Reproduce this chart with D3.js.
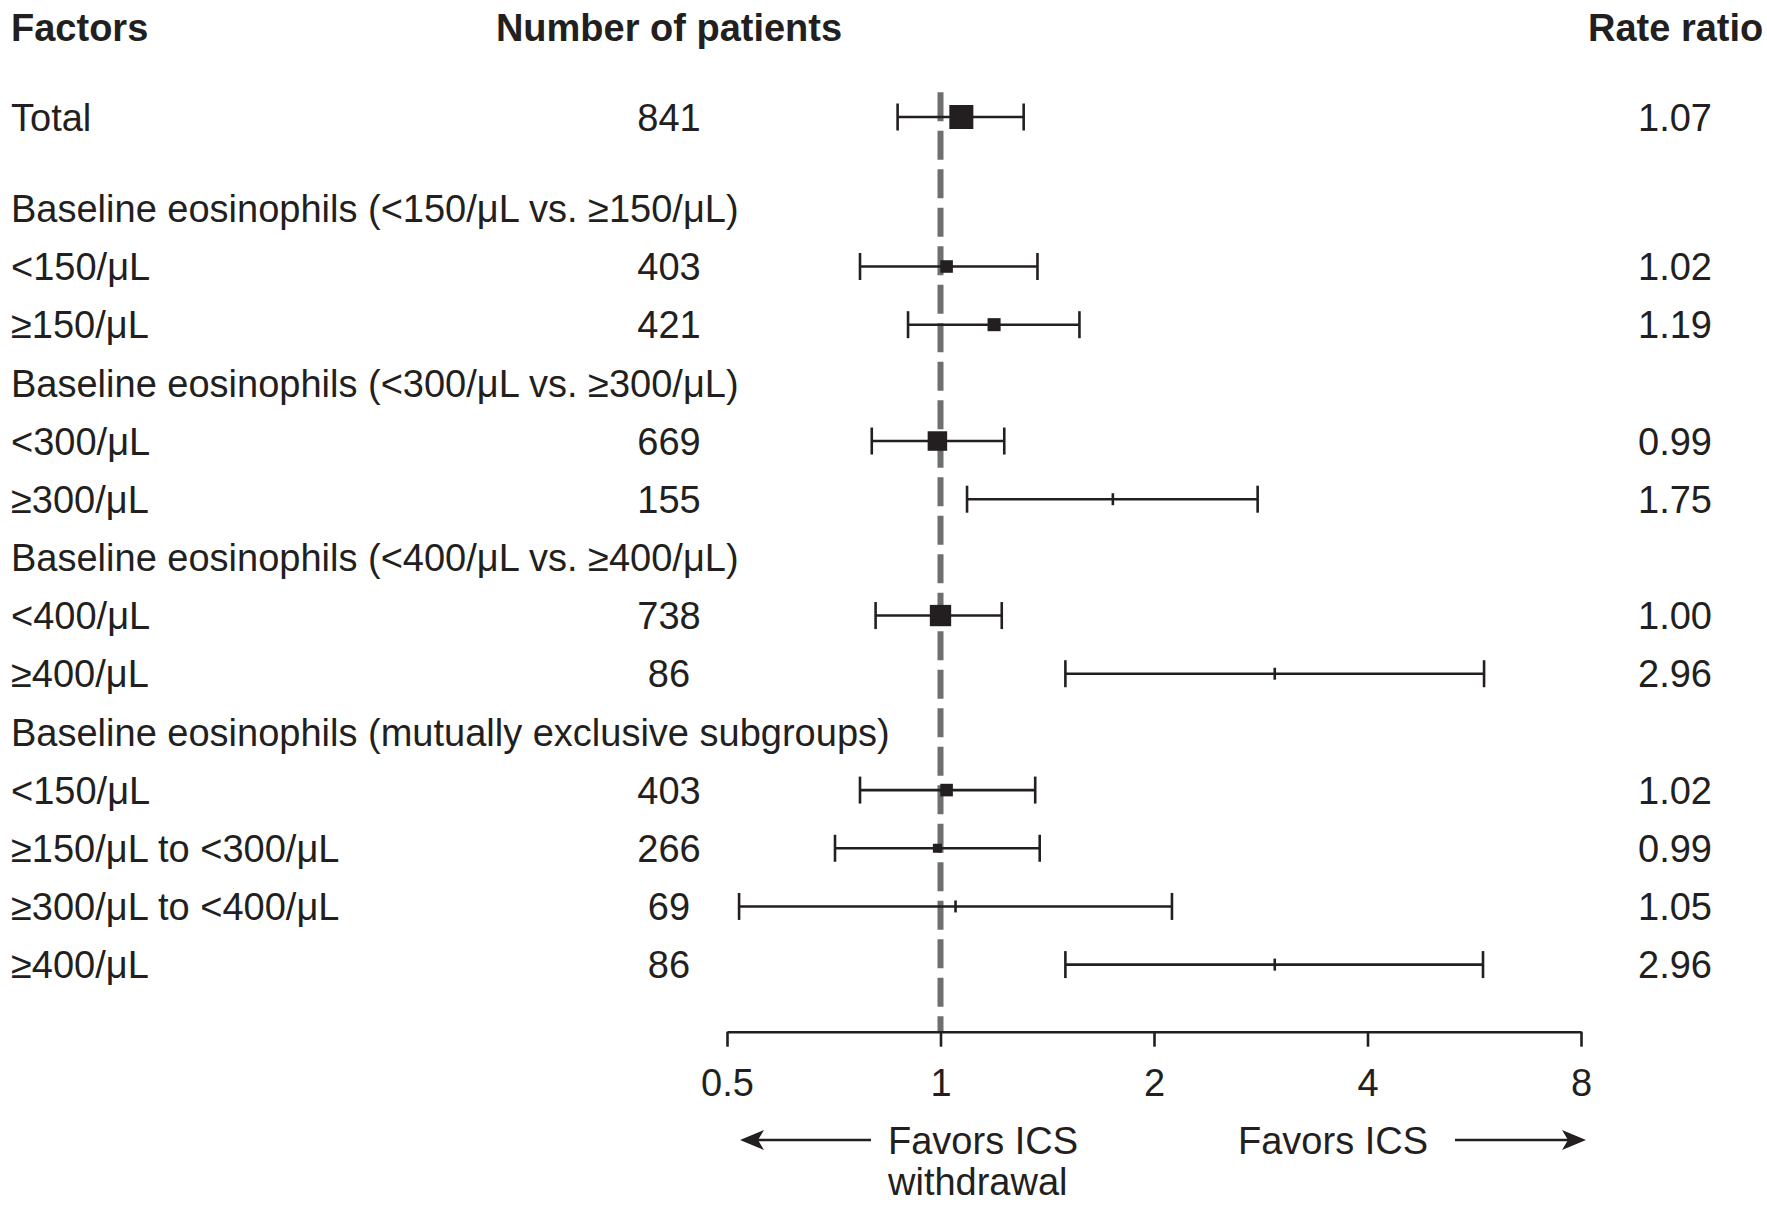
<!DOCTYPE html>
<html>
<head>
<meta charset="utf-8">
<script src="https://cdn.jsdelivr.net/npm/d3@7"></script>
<style>
  body { margin: 0; background: #fff; }
  svg { display: block; }
  text { font-family: "Liberation Sans", Arial, Helvetica, sans-serif; fill: #231f20; }
</style>
</head>
<body>
<svg id="chart" width="1767" height="1205"></svg>
<script>
// Datos del forest plot
const factors = [
  "Total",
  "Baseline eosinophils (<150/μL vs. ≥150/μL)",
  "<150/μL",
  "≥150/μL",
  "Baseline eosinophils (<300/μL vs. ≥300/μL)",
  "<300/μL",
  "≥300/μL",
  "Baseline eosinophils (<400/μL vs. ≥400/μL)",
  "<400/μL",
  "≥400/μL",
  "Baseline eosinophils (mutually exclusive subgroups)",
  "<150/μL",
  "≥150/μL to <300/μL",
  "≥300/μL to <400/μL",
  "≥400/μL"
];
const patients = [841, null, 403, 421, null, 669, 155, null, 738, 86, null, 403, 266, 69, 86];
const rateRatio = [1.07, null, 1.02, 1.19, null, 0.99, 1.75, null, 1.00, 2.96, null, 1.02, 0.99, 1.05, 2.96];
const ciLow = [0.87, null, 0.77, 0.90, null, 0.80, 1.09, null, 0.81, 1.50, null, 0.77, 0.71, 0.52, 1.50];
const ciHigh = [1.31, null, 1.37, 1.57, null, 1.23, 2.80, null, 1.22, 5.84, null, 1.36, 1.38, 2.12, 5.82];
const axisTicks = [0.5, 1, 2, 4, 8];

const svg = d3.select("#chart");
const ink = "#231f20";
const fontSize = 38;

// Filas: el total va separado del resto por un hueco extra
const rows = factors.map((f, i) => ({
  label: f,
  n: patients[i],
  rr: rateRatio[i],
  lo: ciLow[i],
  hi: ciHigh[i],
  slot: i === 0 ? 0 : i + 0.57
}));

const y = d3.scaleLinear().domain([0, 14.57]).range([117, 964.6]);
const x = d3.scaleLog().base(2).domain([0.5, 8]).range([727, 1581]);
const boxSize = d3.scaleLinear().domain([266, 841]).range([9, 24]);
const axisY = 1031.7;

// Encabezados
const headers = [
  { text: "Factors", x: 11, anchor: "start" },
  { text: "Number of patients", x: 669, anchor: "middle" },
  { text: "Rate ratio", x: 1588, anchor: "start" }
];
svg.selectAll(".header")
  .data(headers)
  .enter()
  .append("text")
  .attr("class", "header")
  .attr("x", d => d.x)
  .attr("y", 27)
  .attr("dy", "0.36em")
  .attr("text-anchor", d => d.anchor)
  .style("font-size", fontSize + "px")
  .style("font-weight", "bold")
  .text(d => d.text);

// Línea de referencia en 1
svg.append("line")
  .attr("x1", x(1))
  .attr("x2", x(1))
  .attr("y1", 92.3)
  .attr("y2", axisY)
  .style("stroke", "#6f6f6f")
  .style("stroke-width", 6)
  .style("stroke-dasharray", "29,9.5");

// Etiquetas de factores
svg.selectAll(".factor")
  .data(rows)
  .enter()
  .append("text")
  .attr("class", "factor")
  .attr("x", 11)
  .attr("y", d => y(d.slot))
  .attr("dy", "0.36em")
  .style("font-size", fontSize + "px")
  .text(d => d.label);

const dataRows = rows.filter(d => d.rr !== null);

// Número de pacientes
svg.selectAll(".count")
  .data(dataRows)
  .enter()
  .append("text")
  .attr("class", "count")
  .attr("x", 669)
  .attr("y", d => y(d.slot))
  .attr("dy", "0.36em")
  .attr("text-anchor", "middle")
  .style("font-size", fontSize + "px")
  .text(d => d.n);

// Valores de rate ratio
svg.selectAll(".rr")
  .data(dataRows)
  .enter()
  .append("text")
  .attr("class", "rr")
  .attr("x", 1712)
  .attr("y", d => y(d.slot))
  .attr("dy", "0.36em")
  .attr("text-anchor", "end")
  .style("font-size", fontSize + "px")
  .text(d => d.rr.toFixed(2));

// Intervalos de confianza
const ci = svg.selectAll(".ci")
  .data(dataRows)
  .enter()
  .append("g")
  .attr("class", "ci")
  .style("stroke", ink)
  .style("stroke-width", 2.6);

ci.append("line")
  .attr("x1", d => x(d.lo))
  .attr("x2", d => x(d.hi))
  .attr("y1", d => y(d.slot))
  .attr("y2", d => y(d.slot));

ci.selectAll(".cap")
  .data(d => [d.lo, d.hi].map(v => ({ v, slot: d.slot })))
  .enter()
  .append("line")
  .attr("class", "cap")
  .attr("x1", d => x(d.v))
  .attr("x2", d => x(d.v))
  .attr("y1", d => y(d.slot) - 13.5)
  .attr("y2", d => y(d.slot) + 13.5);

// Puntos: cuadrado proporcional al tamaño, o marca fina si el grupo es pequeño
ci.filter(d => d.n >= 200)
  .append("rect")
  .attr("x", d => x(d.rr) - boxSize(d.n) / 2)
  .attr("y", d => y(d.slot) - boxSize(d.n) / 2)
  .attr("width", d => boxSize(d.n))
  .attr("height", d => boxSize(d.n))
  .style("fill", ink)
  .style("stroke", "none");

ci.filter(d => d.n < 200)
  .append("line")
  .attr("x1", d => x(d.rr))
  .attr("x2", d => x(d.rr))
  .attr("y1", d => y(d.slot) - 6)
  .attr("y2", d => y(d.slot) + 6);

// Eje
const axis = d3.axisBottom(x)
  .tickValues(axisTicks)
  .tickFormat(d3.format("~g"))
  .tickSize(15)
  .tickSizeOuter(0)
  .tickPadding(22);

const gAxis = svg.append("g")
  .attr("transform", `translate(0,${axisY})`)
  .call(axis);
gAxis.select(".domain").style("stroke", ink).style("stroke-width", 2.6);
gAxis.selectAll(".tick line").style("stroke", ink).style("stroke-width", 2.6);
gAxis.selectAll(".tick text")
  .style("font-size", fontSize + "px")
  .style("font-family", "'Liberation Sans', Arial, sans-serif")
  .style("fill", ink);

// Leyenda inferior con flechas
const notes = [
  { text: "Favors ICS", x: 888, y: 1140 },
  { text: "withdrawal", x: 888, y: 1181 },
  { text: "Favors ICS", x: 1238, y: 1140 }
];
svg.selectAll(".note")
  .data(notes)
  .enter()
  .append("text")
  .attr("class", "note")
  .attr("x", d => d.x)
  .attr("y", d => d.y)
  .attr("dy", "0.36em")
  .style("font-size", fontSize + "px")
  .text(d => d.text);

function arrow(xTail, xTip, yy) {
  const dir = xTip > xTail ? 1 : -1;
  svg.append("line")
    .attr("x1", xTail)
    .attr("x2", xTip - dir * 12)
    .attr("y1", yy)
    .attr("y2", yy)
    .style("stroke", ink)
    .style("stroke-width", 2.6);
  svg.append("path")
    .attr("d", `M${xTip},${yy} L${xTip - dir * 24},${yy - 10} L${xTip - dir * 18},${yy} L${xTip - dir * 24},${yy + 10} Z`)
    .style("fill", ink);
}
arrow(871, 740, 1140);
arrow(1455, 1586, 1140);
</script>
</body>
</html>
